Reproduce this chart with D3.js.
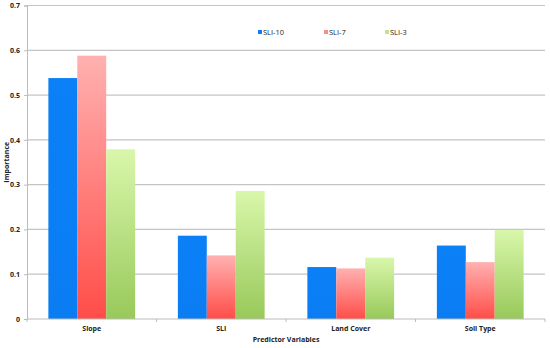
<!DOCTYPE html>
<html>
<head>
<meta charset="utf-8">
<script src="https://cdn.jsdelivr.net/npm/d3@7"></script>
<style>
  body { margin: 0; background: #fff; }
  text { font-family: "Open Sans", "DejaVu Sans", sans-serif; font-weight: bold; fill: #222; }
</style>
</head>
<body>
<svg id="chart" width="550" height="348"></svg>
<script>
// chart data
var categories = ["Slope", "SLI", "Land Cover", "Soil Type"];
var seriesNames = ["SLI-10", "SLI-7", "SLI-3"];
var sli10 = [0.538, 0.186, 0.116, 0.164];
var sli7 = [0.588, 0.142, 0.113, 0.127];
var sli3 = [0.379, 0.286, 0.137, 0.199];
var yTicks = [0, 0.1, 0.2, 0.3, 0.4, 0.5, 0.6, 0.7];

var series = [sli10, sli7, sli3];

var margin = {left: 27, right: 5, top: 5.5, bottom: 29};
var width = 550, height = 348;
var svg = d3.select("#chart");

var x = d3.scaleBand()
  .domain(categories)
  .range([margin.left, width - margin.right])
  .paddingInner(0.33)
  .paddingOuter(0.165);

var xs = d3.scaleBand()
  .domain(seriesNames)
  .range([0, x.bandwidth()]);

var y = d3.scaleLinear()
  .domain([0, 0.7])
  .range([height - margin.bottom, margin.top]);

//Gradients (the bars have an Excel-ish vertical shading)
var defs = svg.append("defs");
var grads = [
  {id: "g0", top: "#0b80f7", bottom: "#0a7df3"},
  {id: "g1", top: "#ffb1b1", bottom: "#ff4d48"},
  {id: "g2", top: "#d9f7ab", bottom: "#98c95a"}
];
grads.forEach(function(g){
  var lg = defs.append("linearGradient").attr("id", g.id)
    .attr("x1", 0).attr("y1", 0).attr("x2", 0).attr("y2", 1);
  lg.append("stop").attr("offset", "0%").attr("stop-color", g.top);
  lg.append("stop").attr("offset", "100%").attr("stop-color", g.bottom);
});
var swatch = ["#0b7ff6", "#f48f8c", "#bfe58a"];

//Gridlines
svg.append("g").selectAll("line").data(yTicks.slice(1)).enter().append("line")
  .attr("x1", margin.left).attr("x2", width - margin.right)
  .attr("y1", function(d){ return y(d); }).attr("y2", function(d){ return y(d); })
  .attr("stroke", "#c4c4c4").attr("stroke-width", 1.2);

//Y axis
var yAxis = svg.append("g")
  .attr("transform", "translate(" + margin.left + ",0)")
  .call(d3.axisLeft(y).tickValues(yTicks).tickSize(3).tickFormat(function(d){ return d === 0 ? "0" : d3.format(".1f")(d); }));
yAxis.select(".domain").attr("stroke", "#bbb");
yAxis.selectAll(".tick line").attr("stroke", "#bbb");
yAxis.selectAll("text").style("font-size", "7px").attr("x", -7);

//Bars
series.forEach(function(values, s){
  svg.append("g").selectAll("rect").data(values).enter().append("rect")
    .attr("x", function(d, i){ return x(categories[i]) + xs(seriesNames[s]); })
    .attr("width", xs.bandwidth())
    .attr("y", function(d){ return y(d); })
    .attr("height", function(d){ return y(0) - y(d); })
    .attr("fill", "url(#" + grads[s].id + ")");
});

//X axis with ticks at category boundaries
var baseline = y(0);
svg.append("line")
  .attr("x1", margin.left).attr("x2", width - margin.right)
  .attr("y1", baseline).attr("y2", baseline)
  .attr("stroke", "#bbb");
var step = x.step();
var bounds = d3.range(categories.length + 1).map(function(i){ return margin.left + i * step; });
svg.append("g").selectAll("line").data(bounds).enter().append("line")
  .attr("x1", function(d){ return d; }).attr("x2", function(d){ return d; })
  .attr("y1", baseline).attr("y2", baseline + 3)
  .attr("stroke", "#bbb");
svg.append("g").selectAll("text").data(categories).enter().append("text")
  .attr("x", function(d){ return x(d) + x.bandwidth() / 2; })
  .attr("y", baseline + 12)
  .attr("text-anchor", "middle")
  .style("font-size", "7px")
  .text(function(d){ return d; });

//Axis titles
svg.append("text")
  .attr("x", (margin.left + width - margin.right) / 2)
  .attr("y", 342)
  .attr("text-anchor", "middle")
  .style("font-size", "7px")
  .text("Predictor Variables");
svg.append("text")
  .attr("transform", "translate(9," + y(0.35) + ") rotate(-90)")
  .attr("text-anchor", "middle")
  .style("font-size", "7px")
  .text("Importance");

//Legend
var legendX = [258, 324, 385];
var legend = svg.append("g").selectAll("g").data(seriesNames).enter().append("g")
  .attr("transform", function(d, i){ return "translate(" + legendX[i] + ",30)"; });
legend.append("rect").attr("width", 4).attr("height", 4)
  .attr("fill", function(d, i){ return swatch[i]; });
legend.append("text").attr("x", 5).attr("y", 4.5)
  .style("font-size", "7.5px").style("font-weight", "normal")
  .text(function(d){ return d; });
</script>
</body>
</html>
